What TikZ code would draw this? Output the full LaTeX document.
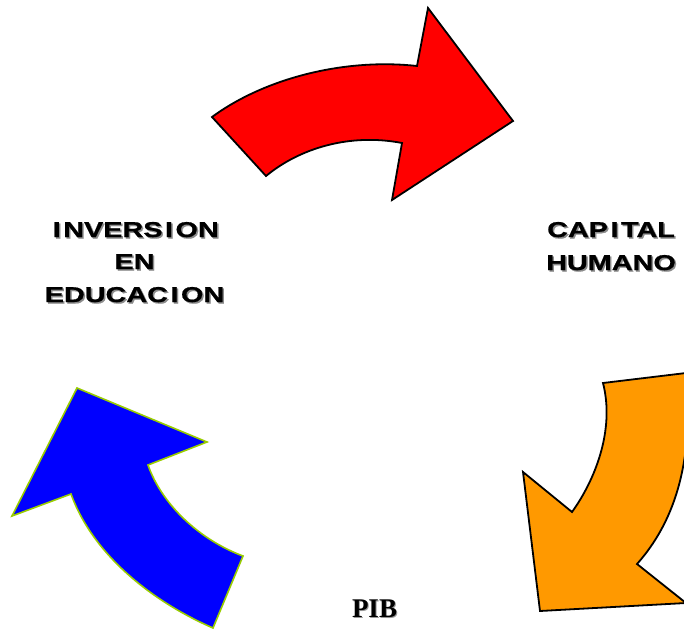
\documentclass[tikz,border=0pt]{standalone}
\usepackage{fontspec}
\newfontfamily\labfont{Liberation Sans Bold}[FakeStretch=1.34,FakeBold=0.8]
\newfontfamily\pibfont{Liberation Serif Bold}
\definecolor{arrRed}{HTML}{FF0000}
\definecolor{arrBlue}{HTML}{0000FF}
\definecolor{arrOrange}{HTML}{FF9900}
\definecolor{arrGreen}{HTML}{99CC00}
\newcommand{\wI}{\kern2.5pt I\kern2.5pt}
\begin{document}
\begin{tikzpicture}[x=1pt,y=-1pt,
  arrowshape/.style={line width=1.8pt,line join=miter},
  lab/.style={font=\labfont\fontsize{21.5}{21.5}\selectfont,inner sep=0pt,anchor=base},
  labshadow/.style={lab,text=black!45},
  pib/.style={font=\pibfont\fontsize{27}{27}\selectfont,inner sep=0pt,anchor=base}]
\useasboundingbox (0,0) rectangle (684,629);
% red arrow
\draw[arrowshape,fill=arrRed,draw=black]
  (212,117) .. controls (265,78) and (345,58) .. (417,66)
  -- (428,8) -- (513,121) -- (392,200) -- (402,143)
  .. controls (350,133) and (300,148) .. (266,176) -- cycle;
% orange arrow
\draw[arrowshape,fill=arrOrange,draw=black]
  (603,383) -- (686,373)
  .. controls (692,440) and (685,510) .. (637,564)
  -- (686,603) -- (540,611) -- (523,472) -- (572,512)
  .. controls (595,480) and (615,430) .. (603,383) -- cycle;
% blue arrow
\draw[line width=1.6pt,line join=miter,fill=arrBlue,draw=arrGreen]
  (77,388) -- (207,442) -- (148,465)
  .. controls (162,505) and (200,540) .. (243,556)
  -- (213,628)
  .. controls (160,605) and (95,560) .. (71,494)
  -- (12,516) -- cycle;
% labels
\foreach \nm/\xx/\yy/\tx in {inv1/134.5/237/{\wI NVERS\wI ON},inv2/134.5/269/EN,inv3/134.5/302/{EDUCAC\wI ON},cap1/611/237/{CAP\wI TAL},cap2/611/270/HUMANO}{
  \node[labshadow] (\nm s) at (\xx+1.5,\yy+1.5) {\tx};
  \node[lab] (\nm) at (\xx,\yy) {\tx};
}
\node[pib,text=black!40] (pibs) at (375.5,618) {PIB};
\node[pib] (pib) at (374.5,617) {PIB};
\end{tikzpicture}
\end{document}
